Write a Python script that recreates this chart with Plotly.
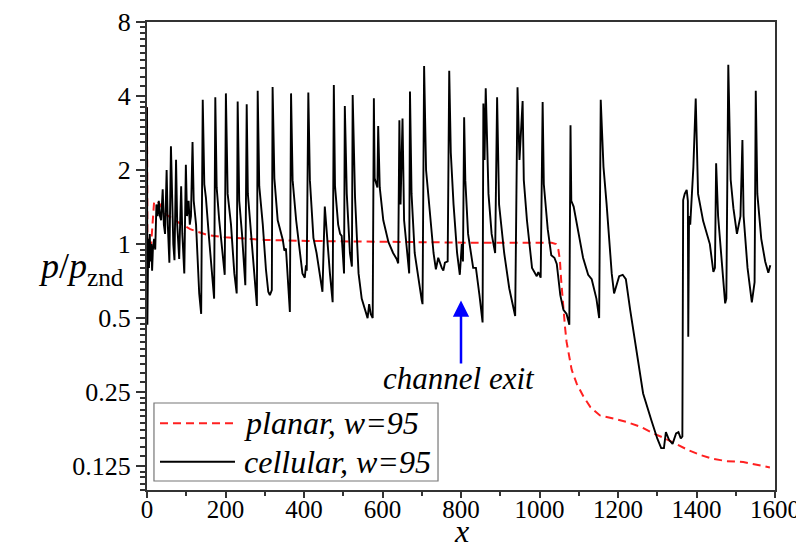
import math
import plotly.graph_objects as go

# ---- datos --------------------------------------------------------------
planar_x = [0, 1, 5, 10, 14, 18, 25, 33, 48, 67, 82, 110, 153, 200, 250, 300,
            408, 600, 824, 1031, 1042, 1048, 1052, 1055, 1058, 1061, 1065, 1069,
            1075, 1082, 1095, 1112, 1130, 1154, 1190, 1222, 1260, 1290, 1320,
            1350, 1380, 1409, 1440, 1477, 1519, 1550, 1587]
planar_y = [3.6, 1.0, 1.02, 0.97, 1.2, 1.48, 1.5, 1.45, 1.32, 1.26, 1.22, 1.15,
            1.09, 1.065, 1.05, 1.04, 1.03, 1.02, 1.013, 1.013, 1.0, 0.95, 0.86,
            0.72, 0.62, 0.55, 0.46, 0.40, 0.35, 0.308, 0.27, 0.24, 0.217, 0.201,
            0.195, 0.189, 0.18, 0.17, 0.162, 0.153, 0.145, 0.139, 0.134, 0.131,
            0.13, 0.127, 0.1235]

cell_x = [0, 1, 3, 5, 7, 9, 11, 13, 15, 18, 21, 24, 27, 30, 33, 36, 40, 43, 46,
          50, 53, 57, 61, 64, 67, 70, 74, 77, 82, 87, 90, 95, 99, 102, 106, 109,
          112, 116, 119, 125, 133, 138,
          142, 146, 150, 158, 165, 171,
          174, 177.5, 184, 193, 198,
          201, 205.5, 214, 222.5, 228.5,
          231, 235, 242, 250.5,
          254, 257, 265, 273.5, 280,
          282, 286, 295, 303, 309, 313, 318,
          320, 324.5, 333, 346, 350, 354, 358, 364,
          367, 371, 380, 390, 396, 402, 405, 407,
          411, 415, 424, 432, 441, 447, 453, 458, 466, 473,
          476, 479, 487, 492, 496, 502,
          504, 509, 517, 522,
          524, 530, 539, 547, 556, 562, 566, 570, 575,
          578, 580, 587, 589, 593, 602, 615, 627, 636, 640,
          643, 646, 651, 655, 662, 668,
          670, 674, 682, 691, 700, 702,
          706, 711, 721, 730, 736, 742, 751, 755, 759, 766,
          770, 774, 781, 790, 797, 802, 805,
          808, 811, 818, 831, 838, 847, 855,
          857, 860, 863, 866, 870, 878, 887,
          892, 897, 910, 923, 938,
          944, 949, 957, 960, 968, 981, 993, 997, 1003,
          1008, 1011, 1021, 1030, 1038, 1044, 1053, 1061, 1069, 1076,
          1079, 1081, 1087, 1098, 1111, 1124, 1133, 1145, 1152,
          1156, 1163, 1171, 1184, 1190, 1197, 1203, 1212, 1220, 1231, 1248,
          1264, 1285, 1300, 1310, 1317, 1322, 1330, 1339, 1348, 1354, 1360,
          1364, 1366, 1370, 1375, 1378, 1379, 1381, 1384, 1392, 1398, 1404,
          1417, 1434, 1443, 1447, 1450, 1455, 1463, 1473, 1476,
          1481, 1487, 1494, 1503, 1512, 1517, 1520, 1530, 1541, 1548,
          1551, 1555, 1565, 1575, 1583, 1588]
cell_y = [3.6, 0.47, 1.05, 0.8, 1.1, 0.85, 1.0, 0.78, 0.95, 1.05, 0.95, 1.45,
          1.3, 1.5, 1.3, 1.25, 1.67, 1.2, 1.1, 2.0, 1.2, 0.84, 2.5, 1.4, 1.0,
          0.86, 2.2, 1.2, 0.87, 1.72, 1.1, 0.76, 2.1, 1.3, 1.5, 1.2, 1.3, 2.6,
          1.5, 1.2, 0.63, 0.52,
          3.86, 1.75, 1.55, 1.06, 0.76, 0.6,
          3.95, 1.7, 1.25, 0.9, 0.75,
          4.1, 1.6, 1.2, 0.76, 0.63,
          3.8, 1.5, 1.1, 0.68,
          3.7, 1.6, 1.1, 0.7, 0.56,
          4.2, 1.72, 1.2, 0.79, 0.64, 0.62, 0.65,
          4.35, 1.85, 1.25, 1.04, 0.94, 0.96, 0.72, 0.53,
          4.1, 1.82, 1.25, 0.88, 0.76, 0.73, 0.82, 0.78,
          4.13, 1.82, 1.06, 0.92, 0.72, 0.64, 1.42, 1.1, 0.76, 0.58,
          4.43, 1.72, 1.2, 1.1, 1.08, 0.76,
          3.64, 1.6, 0.92, 0.81,
          4.04, 1.55, 0.76, 0.6, 0.53, 0.5, 0.57, 0.52, 0.5,
          3.92, 1.85, 1.7, 3.02, 1.7, 1.25, 1.02, 0.92, 0.87, 0.835,
          3.19, 1.45, 3.24, 1.25, 0.92, 0.76,
          4.17, 1.6, 0.92, 0.72, 0.59, 0.57,
          5.3, 2.0, 1.3, 0.92, 0.79, 0.88, 0.8, 0.78, 0.84, 0.85,
          5.07, 2.35, 1.45, 0.92, 0.75, 1.0, 0.85,
          3.28, 1.82, 1.1, 0.8, 0.8, 0.62, 0.48,
          3.73, 2.2, 4.3, 2.58, 1.6, 1.1, 0.92,
          3.95, 1.45, 0.92, 0.66, 0.51,
          4.34, 2.2, 3.82, 1.82, 1.25, 0.8, 0.74, 0.77, 0.73,
          3.78, 1.75, 1.15, 0.9, 0.88, 0.83, 0.62, 0.54, 0.52, 0.47,
          3.04, 1.5, 1.42, 1.15, 0.88, 0.75, 0.72, 0.6, 0.5,
          3.86, 2.06, 1.45, 0.76, 0.63, 0.68, 0.74, 0.75, 0.72, 0.54, 0.36,
          0.247, 0.192, 0.162, 0.148, 0.148, 0.172, 0.16, 0.154, 0.17, 0.172,
          0.162, 0.165, 1.51, 1.6, 1.66, 1.5, 0.42, 1.3, 1.2, 2.05, 3.91, 1.6,
          1.24, 1.0, 0.77, 0.8, 2.13, 1.3, 0.9, 0.574, 0.6,
          5.36, 1.83, 1.4, 1.1, 1.3, 2.65, 1.3, 0.8, 0.58, 0.7,
          4.2, 1.6, 1.05, 0.85, 0.765, 0.82]

y_ticks = [0.125, 0.25, 0.5, 1, 2, 4, 8]
y_ticktext = ['0.125', '0.25', '0.5', '1', '2', '4', '8']
x_ticks = [0, 200, 400, 600, 800, 1000, 1200, 1400, 1600]

# ticks menores: 9 por octava
y_minor = [b * (1 + 0.1 * i) for b in [0.0625, 0.125, 0.25, 0.5, 1, 2, 4]
           for i in range(1, 10)]

serif = 'Liberation Serif'
axis_color = '#333333'

fig = go.Figure()
fig.add_trace(go.Scatter(x=planar_x, y=planar_y, mode='lines',
                         line=dict(color='#ff2020', width=2, dash='8px,5px'),
                         showlegend=False))
fig.add_trace(go.Scatter(x=cell_x, y=cell_y, mode='lines',
                         line=dict(color='black', width=1.9),
                         showlegend=False))

# el body del html tiene 8px de margen -> figura 8px mas chica
fig.update_layout(
    width=796, height=540,
    paper_bgcolor='white', plot_bgcolor='white',
    margin=dict(l=139, r=29, t=14, b=58),
    font=dict(family=serif, size=26, color='black'),
    xaxis=dict(range=[0, 1600], tickvals=x_ticks, ticks='outside', ticklen=6,
               tickwidth=1.5, tickcolor=axis_color, showline=True,
               linecolor=axis_color, linewidth=2, mirror=True, showgrid=False,
               zeroline=False, automargin=False, tickfont=dict(size=25),
               ticklabelstandoff=-10,
               minor=dict(dtick=100, ticks='outside', ticklen=4, tickwidth=1.5,
                          tickcolor=axis_color, showgrid=False)),
    yaxis=dict(type='log', range=[-1, 0.90309], tickvals=y_ticks,
               ticktext=y_ticktext, ticks='outside', ticklen=9, tickwidth=1.5,
               tickcolor=axis_color, showline=True, linecolor=axis_color,
               linewidth=2, mirror=True, showgrid=False, zeroline=False,
               automargin=False, tickfont=dict(size=26),
               minor=dict(tickvals=y_minor, ticks='outside', ticklen=5,
                          tickwidth=1.5, tickcolor=axis_color, showgrid=False)),
)

# titulos de ejes
fig.add_annotation(text='<i>x</i>', xref='paper', yref='paper', x=0.5,
                   y=-60 / 468, xanchor='center', yanchor='bottom',
                   showarrow=False, borderpad=0, font=dict(size=32))
fig.add_annotation(text='<i>p</i>/<i>p</i><sub>znd</sub>', xref='paper',
                   yref='paper', x=-0.105, y=0.474, xanchor='center',
                   yanchor='middle', showarrow=False, font=dict(size=36))

# flecha "channel exit" (ejes log -> log10 en anotaciones)
fig.add_annotation(x=800, y=math.log10(0.59), ax=800, ay=math.log10(0.322),
                   xref='x', yref='y', axref='x', ayref='y', text='',
                   showarrow=True, arrowhead=2, arrowsize=1.3, arrowwidth=2.5,
                   arrowcolor='#0000ff')
fig.add_annotation(text='<i>channel exit</i>', xref='paper', yref='paper',
                   x=0.497, y=(490 - 378) / 468, xanchor='center',
                   yanchor='middle', showarrow=False, font=dict(size=31))

# leyenda dibujada a mano
fig.add_shape(type='rect', xref='paper', yref='paper', x0=0.0111, x1=0.4634,
              y0=0.0192, y1=0.1859, line=dict(color='#777777', width=1.2),
              fillcolor='white', layer='above')
fig.add_shape(type='line', xref='paper', yref='paper', x0=0.0207, x1=0.1401,
              y0=0.1425, y1=0.1425,
              line=dict(color='#ff2020', width=2, dash='8px,5px'))
fig.add_shape(type='line', xref='paper', yref='paper', x0=0.0207, x1=0.1401,
              y0=0.0605, y1=0.0605, line=dict(color='black', width=1.9))
fig.add_annotation(text='<i>planar, w=95</i>', xref='paper', yref='paper',
                   x=0.151, y=0.1425, xanchor='left', yanchor='middle',
                   showarrow=False, font=dict(size=32))
fig.add_annotation(text='<i>cellular, w=95</i>', xref='paper', yref='paper',
                   x=0.151, y=0.0605, xanchor='left', yanchor='middle',
                   showarrow=False, font=dict(size=32))

fig.write_html('out.html')
